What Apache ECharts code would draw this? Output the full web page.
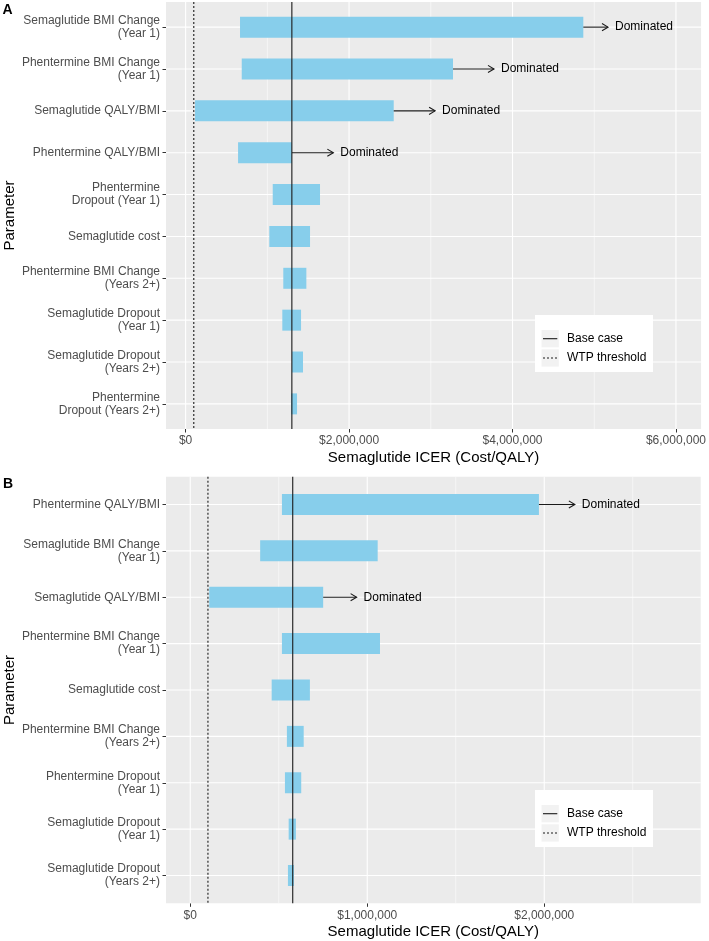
<!DOCTYPE html>
<html>
<head>
<meta charset="utf-8">
<script src="https://cdn.jsdelivr.net/npm/echarts@6/dist/echarts.min.js"></script>
<style>html,body{margin:0;padding:0;background:#fff;}#c{width:709px;height:941px;}</style>
</head>
<body>
<div id="c"></div>
<script>
// ---------- Panel A data ----------
const catsA = ['Semaglutide BMI Change\n(Year 1)', 'Phentermine BMI Change\n(Year 1)', 'Semaglutide QALY/BMI', 'Phentermine QALY/BMI', 'Phentermine\nDropout (Year 1)', 'Semaglutide cost', 'Phentermine BMI Change\n(Years 2+)', 'Semaglutide Dropout\n(Year 1)', 'Semaglutide Dropout\n(Years 2+)', 'Phentermine\nDropout (Years 2+)'];
const lowA  = [665000, 686000, 115000, 641000, 1065000, 1023000, 1194000, 1182000, 1300000, 1289000];
const highA = [4862000, 3269000, 2544000, 1300000, 1643000, 1521000, 1476000, 1411000, 1435000, 1362000];
const domRowsA = [0, 1, 2, 3];
const domEndA  = [5164000, 3770000, 3050000, 1806000];
const baseA = 1300000;
const wtpA = 100000;
const ticksA = [0, 2000000, 4000000, 6000000];
const minorA = [1000000, 3000000, 5000000];

// ---------- Panel B data ----------
const catsB = ['Phentermine QALY/BMI', 'Semaglutide BMI Change\n(Year 1)', 'Semaglutide QALY/BMI', 'Phentermine BMI Change\n(Year 1)', 'Semaglutide cost', 'Phentermine BMI Change\n(Years 2+)', 'Phentermine Dropout\n(Year 1)', 'Semaglutide Dropout\n(Year 1)', 'Semaglutide Dropout\n(Years 2+)'];
const lowB  = [518000, 395000, 107000, 518000, 460000, 546000, 535000, 556000, 552000];
const highB = [1970000, 1059000, 751000, 1072000, 676000, 641000, 627000, 597000, 586000];
const domRowsB = [0, 2];
const domEndB  = [2173000, 940000];
const baseB = 579000;
const wtpB = 100000;
const ticksB = [0, 1000000, 2000000];
const minorB = [500000, 1500000, 2500000];

const domText = 'Dominated';
const xTitle = 'Semaglutide ICER (Cost/QALY)';
const yTitle = 'Parameter';

// ---------- helpers ----------
const FONT = '"Liberation Sans", Arial, sans-serif';
const chart = echarts.init(document.getElementById('c'), null, {renderer: 'canvas'});
const fmt = v => '$' + Math.round(v).toLocaleString('en-US');

function gridLineSeries(xi, yi, vals, w) {
  return {
    type: 'custom', xAxisIndex: xi, yAxisIndex: yi, z: 1, silent: true,
    data: vals.map(v => [v]),
    encode: {x: 0},
    renderItem: (params, api) => {
      const cs = params.coordSys;
      const x = api.coord([api.value(0), 0.5])[0];
      return {type: 'line', shape: {x1: x, y1: cs.y, x2: x, y2: cs.y + cs.height},
        style: {stroke: '#ffffff', lineWidth: w}};
    }
  };
}
function hLineSeries(xi, yi, cats) {
  return {
    type: 'custom', xAxisIndex: xi, yAxisIndex: yi, z: 1, silent: true,
    data: cats.map((c, i) => [i]),
    encode: {y: 0},
    renderItem: (params, api) => {
      const cs = params.coordSys;
      const y = api.coord([0, api.value(0)])[1];
      return {type: 'line', shape: {x1: cs.x, y1: y, x2: cs.x + cs.width, y2: y},
        style: {stroke: '#ffffff', lineWidth: 1.1}};
    }
  };
}
function barSeries(xi, yi, lows, highs) {
  return {
    type: 'custom', xAxisIndex: xi, yAxisIndex: yi, z: 2, silent: true,
    data: lows.map((l, i) => [i, l, highs[i]]),
    encode: {y: 0, x: [1, 2]},
    renderItem: (params, api) => {
      const i = api.value(0);
      const p1 = api.coord([api.value(1), i]);
      const p2 = api.coord([api.value(2), i]);
      return {type: 'rect', shape: {x: p1[0], y: p1[1] - 10.5, width: p2[0] - p1[0], height: 21},
        style: {fill: '#87CEEB'}};
    }
  };
}
function arrowSeries(xi, yi, rows, starts, ends) {
  return {
    type: 'custom', xAxisIndex: xi, yAxisIndex: yi, z: 4, silent: true,
    data: rows.map((r, k) => [r, starts[r], ends[k]]),
    encode: {y: 0, x: [1, 2]},
    renderItem: (params, api) => {
      const i = api.value(0);
      const p1 = api.coord([api.value(1), i]);
      const p2 = api.coord([api.value(2), i]);
      return {type: 'group', children: [
        {type: 'line', shape: {x1: p1[0], y1: p1[1], x2: p2[0], y2: p2[1]}, style: {stroke: '#1a1a1a', lineWidth: 1.1}},
        {type: 'polyline', shape: {points: [[p2[0] - 6, p2[1] - 3.6], [p2[0], p2[1]], [p2[0] - 6, p2[1] + 3.6]]}, style: {stroke: '#1a1a1a', lineWidth: 1.1, fill: null}},
        {type: 'text', x: p2[0] + 7, y: p2[1], style: {text: domText, fill: '#000', font: '12px ' + FONT, verticalAlign: 'middle', align: 'left'}}
      ]};
    }
  };
}
function vLineSeries(xi, yi, vals, dash) {
  return {
    type: 'custom', xAxisIndex: xi, yAxisIndex: yi, z: 5, silent: true,
    data: vals.map(v => [v]),
    encode: {x: 0},
    renderItem: (params, api) => {
      const cs = params.coordSys;
      const x = api.coord([api.value(0), 0.5])[0];
      return {type: 'line', shape: {x1: x, y1: cs.y, x2: x, y2: cs.y + cs.height},
        style: {stroke: '#1a1a1a', lineWidth: 1.1, lineDash: dash}};
    }
  };
}

function outerX(gi, min, max, ticks) {
  return {
    type: 'value', gridIndex: gi, min: min, max: max,
    axisLine: {show: false, onZero: false},
    axisTick: {show: true, customValues: ticks, length: 3.5, lineStyle: {color: '#333333', width: 1}},
    axisLabel: {customValues: ticks, formatter: fmt, color: '#4d4d4d', fontSize: 12, fontFamily: FONT, margin: 6},
    splitLine: {show: false},
    name: xTitle, nameLocation: 'middle', nameGap: 21,
    nameTextStyle: {color: '#000', fontSize: 15, fontFamily: FONT}
  };
}
function innerX(gi, min, max) {
  return {type: 'value', gridIndex: gi, min: min, max: max, show: false, axisLine: {onZero: false}, splitLine: {show: false}};
}
function outerY(gi) {
  return {type: 'value', gridIndex: gi, min: 0, max: 1, show: false, axisLine: {onZero: false}, splitLine: {show: false}};
}
function innerY(gi, cats) {
  return {
    type: 'category', gridIndex: gi, data: cats, inverse: true, position: 'left',
    axisLine: {show: false, onZero: false},
    axisTick: {show: true, alignWithLabel: true, length: 3.5, lineStyle: {color: '#333333', width: 1}},
    axisLabel: {color: '#4d4d4d', fontSize: 12, fontFamily: FONT, lineHeight: 13, margin: 6, align: 'right'},
    splitLine: {show: false}
  };
}

const minA = -240000, maxA = 6307000;
const minB = -137000, maxB = 2884000;

function legendGroup(x, y) {
  const Z = 200;
  return {
    type: 'group', x: x, y: y, z: Z,
    children: [
      {type: 'rect', z: Z, shape: {x: 0, y: 0, width: 118, height: 57}, style: {fill: '#ffffff'}},
      {type: 'rect', z: Z + 1, shape: {x: 6.5, y: 15, width: 17.3, height: 17.3}, style: {fill: '#f2f2f2'}},
      {type: 'rect', z: Z + 1, shape: {x: 6.5, y: 34.3, width: 17.3, height: 17.3}, style: {fill: '#f2f2f2'}},
      {type: 'line', z: Z + 2, shape: {x1: 8, y1: 23.7, x2: 22.3, y2: 23.7}, style: {stroke: '#1a1a1a', lineWidth: 1.1}},
      {type: 'line', z: Z + 2, shape: {x1: 8, y1: 43, x2: 22.3, y2: 43}, style: {stroke: '#1a1a1a', lineWidth: 1.1, lineDash: [2, 2]}},
      {type: 'text', z: Z + 2, x: 32, y: 23.7, style: {text: 'Base case', fill: '#000', font: '12px ' + FONT, verticalAlign: 'middle'}},
      {type: 'text', z: Z + 2, x: 32, y: 43, style: {text: 'WTP threshold', fill: '#000', font: '12px ' + FONT, verticalAlign: 'middle'}}
    ]
  };
}

const option = {
  animation: false,
  backgroundColor: '#ffffff',
  grid: [
    {left: 166, right: 7.5, top: 2, height: 427, show: true, backgroundColor: '#EBEBEB', borderWidth: 0},
    {left: 166, right: 7.5, top: 6.2, height: 418.6},
    {left: 166, right: 8.3, top: 476.7, height: 426.6, show: true, backgroundColor: '#EBEBEB', borderWidth: 0},
    {left: 166, right: 8.3, top: 481.3, height: 417.4}
  ],
  xAxis: [outerX(0, minA, maxA, ticksA), innerX(1, minA, maxA), outerX(2, minB, maxB, ticksB), innerX(3, minB, maxB)],
  yAxis: [outerY(0), innerY(1, catsA), outerY(2), innerY(3, catsB)],
  series: [
    gridLineSeries(0, 0, minorA, 0.55),
    gridLineSeries(0, 0, ticksA, 1.1),
    hLineSeries(1, 1, catsA),
    barSeries(1, 1, lowA, highA),
    arrowSeries(1, 1, domRowsA, highA, domEndA),
    vLineSeries(0, 0, [baseA], null),
    vLineSeries(0, 0, [wtpA], [2, 2]),

    gridLineSeries(2, 2, minorB, 0.55),
    gridLineSeries(2, 2, ticksB, 1.1),
    hLineSeries(3, 3, catsB),
    barSeries(3, 3, lowB, highB),
    arrowSeries(3, 3, domRowsB, highB, domEndB),
    vLineSeries(2, 2, [baseB], null),
    vLineSeries(2, 2, [wtpB], [2, 2])
  ],
  graphic: [
    {type: 'text', x: 2.5, y: 3, style: {text: 'A', fill: '#000', font: 'bold 14px ' + FONT}},
    {type: 'text', x: 3, y: 477, style: {text: 'B', fill: '#000', font: 'bold 14px ' + FONT}},
    {type: 'text', x: 9.5, y: 215.5, rotation: Math.PI / 2, style: {text: yTitle, fill: '#000', font: '15px ' + FONT, align: 'center', verticalAlign: 'middle'}},
    {type: 'text', x: 9.5, y: 690, rotation: Math.PI / 2, style: {text: yTitle, fill: '#000', font: '15px ' + FONT, align: 'center', verticalAlign: 'middle'}},
    legendGroup(535, 315),
    legendGroup(535, 790)
  ]
};
chart.setOption(option);
</script>
</body>
</html>
